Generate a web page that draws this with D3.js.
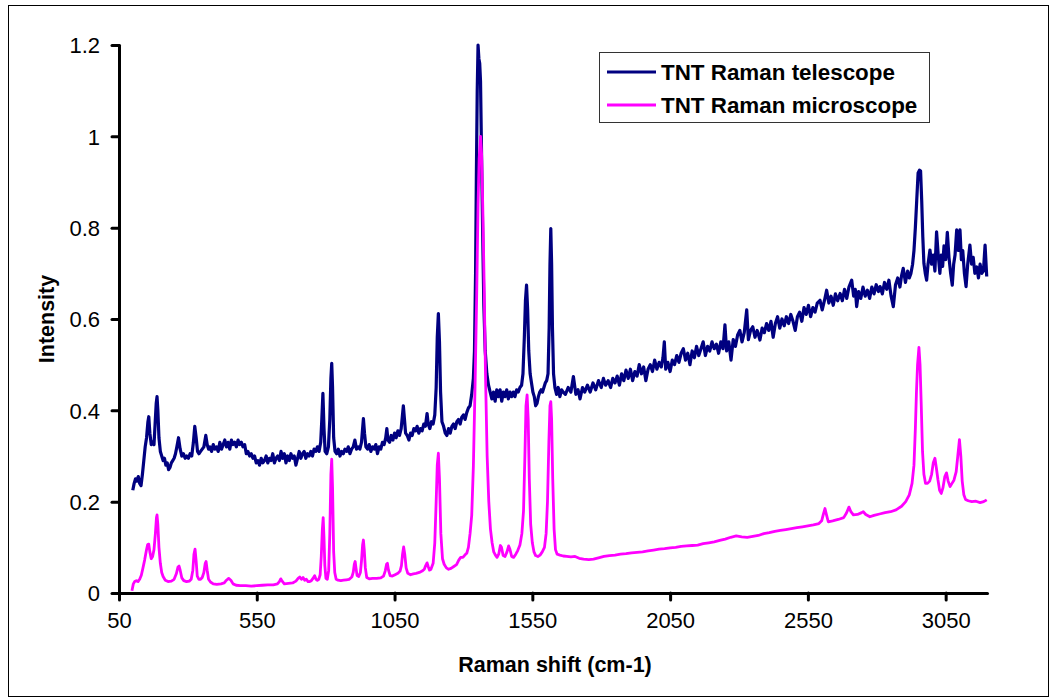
<!DOCTYPE html>
<html>
<head>
<meta charset="utf-8">
<script src="https://cdn.jsdelivr.net/npm/d3@7"></script>
<style>
  html, body { margin: 0; padding: 0; background: #fff; }
  svg { display: block; }
  text { font-family: "Liberation Sans", Arial, sans-serif; }
</style>
</head>
<body>
<svg id="chart" width="1054" height="700"></svg>
<script>
// ---------- DATA ----------
const xTicks = [50, 550, 1050, 1550, 2050, 2550, 3050];
const yTicks = [0, 0.2, 0.4, 0.6, 0.8, 1, 1.2];
const seriesNames = ["TNT Raman telescope", "TNT Raman microscope"];
const seriesColors = ["#000080", "#FF00FF"];

const telescope = [
[100,0.225],[105,0.24],[110,0.25],[115,0.245],[120,0.255],[125,0.24],[130,0.235],[135,0.26],[140,0.29],[145,0.32],[150,0.34],[155,0.375],[158,0.386],[162,0.35],[167,0.325],[172,0.33],[177,0.325],[181,0.37],[185,0.415],[188,0.43],[191,0.4],[195,0.34],[200,0.31],[205,0.3],[210,0.29],[215,0.295],[220,0.28],[225,0.285],[230,0.27],[235,0.275],
[240,0.285],[245,0.29],[250,0.295],[255,0.305],[260,0.32],[266,0.34],[272,0.315],[278,0.30],[284,0.305],[290,0.295],[296,0.30],[302,0.295],[308,0.305],[314,0.30],[320,0.33],[325,0.365],[330,0.34],[335,0.31],[340,0.305],[346,0.31],[352,0.315],[358,0.32],[365,0.345],[370,0.325],[375,0.315],[380,0.32],
[386,0.31],[392,0.325],[398,0.315],[404,0.32],[410,0.31],[416,0.33],[422,0.315],[428,0.325],[434,0.335],[440,0.32],[446,0.33],[452,0.315],[458,0.335],[464,0.325],[470,0.33],[476,0.32],[482,0.335],[488,0.325],[494,0.33],[500,0.32],[506,0.325],[512,0.305],[518,0.31],[524,0.3],[530,0.305],[536,0.295],[542,0.30],[548,0.285],[554,0.29],[560,0.28],[566,0.295],[572,0.285],[578,0.29],[584,0.30],[590,0.285],[596,0.295],[602,0.29],[608,0.305],[614,0.285],[620,0.295],[626,0.30],[632,0.29],[638,0.31],[644,0.295],[650,0.305],[656,0.285],[662,0.30],[668,0.29],[674,0.305],[680,0.295],[686,0.30],[692,0.28],[698,0.295],[704,0.31],[710,0.295],[716,0.305],[722,0.31],[728,0.295],[734,0.305],[740,0.30],[746,0.31],[752,0.30],[758,0.315],[764,0.31],[770,0.32],[776,0.31],[782,0.33],[786,0.38],[790,0.437],[794,0.36],[798,0.31],[804,0.305],[810,0.32],[815,0.38],[819,0.47],[822,0.503],[825,0.45],[829,0.34],[834,0.31],
[840,0.305],[846,0.315],[852,0.30],[858,0.31],[864,0.305],[870,0.315],[876,0.31],[882,0.32],[888,0.305],[894,0.315],[900,0.32],[906,0.335],[912,0.315],[918,0.32],[924,0.315],[930,0.33],[934,0.36],[937,0.382],[941,0.35],[946,0.32],[952,0.315],[958,0.325],[964,0.31],[970,0.32],[976,0.315],[982,0.325],[988,0.305],[994,0.32],[1000,0.315],[1006,0.33],[1012,0.325],[1018,0.34],[1022,0.36],[1026,0.335],[1032,0.33],[1038,0.345],[1044,0.335],[1050,0.35],[1056,0.34],[1062,0.355],[1068,0.345],[1074,0.36],[1078,0.385],[1082,0.41],[1086,0.38],[1090,0.35],[1096,0.345],[1102,0.335],[1108,0.35],[1114,0.345],[1120,0.36],[1126,0.355],[1132,0.365],[1138,0.35],[1144,0.36],[1150,0.355],[1156,0.37],[1162,0.365],[1168,0.393],[1172,0.37],[1178,0.36],[1184,0.375],[1190,0.37],[1196,0.39],[1201,0.45],[1205,0.56],[1209,0.612],[1213,0.55],[1217,0.44],[1222,0.375],[1228,0.365],[1234,0.35],[1240,0.345],[1246,0.36],[1252,0.35],[1258,0.365],[1264,0.37],[1270,0.36],[1276,0.375],[1282,0.38],[1288,0.37],[1294,0.385],[1300,0.39],[1306,0.38],[1312,0.395],[1318,0.405],[1324,0.41],[1330,0.435],[1336,0.47],[1340,0.53],
[1344,0.7],[1347,0.92],[1350,1.1],[1353,1.2],[1356,1.17],[1359,1.16],[1362,1.12],[1366,0.95],[1370,0.78],[1374,0.63],[1379,0.53],[1385,0.48],[1391,0.455],[1397,0.44],[1403,0.425],[1409,0.44],[1415,0.42],[1421,0.445],[1427,0.43],[1433,0.445],[1439,0.42],[1445,0.44],[1451,0.43],[1457,0.445],[1463,0.425],[1469,0.44],[1475,0.43],[1481,0.44],[1487,0.43],[1493,0.445],[1499,0.44],[1505,0.45],[1511,0.455],[1516,0.48],[1521,0.56],[1525,0.64],[1529,0.674],[1533,0.62],[1537,0.53],[1542,0.48],[1547,0.46],[1552,0.44],[1557,0.43],[1562,0.41],[1567,0.415],[1572,0.43],[1577,0.44],[1582,0.445],[1587,0.44],[1592,0.45],[1597,0.46],[1602,0.465],[1607,0.48],[1611,0.58],[1614,0.72],[1617,0.798],[1620,0.72],[1623,0.58],[1627,0.48],[1632,0.45],[1638,0.435],[1644,0.45],[1650,0.43],[1656,0.445],[1662,0.44],
[1670,0.435],[1680,0.45],[1690,0.44],[1699,0.474],[1708,0.435],[1716,0.445],[1723,0.425],[1732,0.45],[1740,0.44],[1750,0.455],[1760,0.44],[1770,0.46],[1780,0.445],[1790,0.465],[1800,0.45],[1808,0.47],[1816,0.455],[1825,0.465],[1834,0.45],[1842,0.47],[1850,0.46],[1858,0.475],[1866,0.455],[1874,0.48],[1882,0.465],[1890,0.488],[1898,0.47],[1906,0.49],[1914,0.465],[1922,0.485],[1930,0.475],[1938,0.50],[1946,0.48],[1954,0.495],[1962,0.465],[1970,0.49],[1978,0.50],[1986,0.485],[1994,0.51],[2002,0.49],[2010,0.505],[2018,0.495],[2024,0.515],[2029,0.55],[2034,0.49],[2042,0.505],[2050,0.485],[2058,0.51],[2066,0.50],[2074,0.52],[2082,0.505],[2090,0.525],[2098,0.535],[2106,0.51],[2114,0.525],[2122,0.50],[2130,0.53],[2138,0.515],[2146,0.54],[2154,0.52],[2162,0.535],[2170,0.55],[2178,0.52],[2186,0.54],[2194,0.53],[2202,0.55],[2210,0.535],[2218,0.545],[2226,0.525],[2234,0.55],[2242,0.535],[2249,0.587],[2255,0.53],[2263,0.55],[2271,0.51],[2279,0.555],[2287,0.54],[2295,0.565],[2303,0.575],[2311,0.55],[2319,0.57],[2328,0.62],[2334,0.555],[2342,0.575],[2350,0.583],[2358,0.56],[2366,0.575],[2376,0.554],[2384,0.58],[2392,0.57],[2400,0.59],[2408,0.575],[2416,0.595],[2424,0.56],[2432,0.59],[2440,0.605],[2448,0.58],[2456,0.6],[2464,0.585],[2472,0.605],[2480,0.59],[2488,0.61],[2496,0.595],[2504,0.575],[2512,0.605],[2520,0.615],[2528,0.595],[2536,0.625],[2544,0.61],[2552,0.63],[2560,0.605],[2568,0.625],[2576,0.615],[2584,0.635],[2594,0.641],[2602,0.62],[2610,0.64],[2618,0.663],[2626,0.635],[2634,0.65],[2642,0.63],[2650,0.655],[2658,0.64],[2667,0.656],[2675,0.64],[2683,0.665],[2691,0.645],[2699,0.67],[2709,0.685],[2716,0.65],[2722,0.665],[2727,0.627],[2734,0.66],[2742,0.645],[2750,0.67],[2758,0.65],[2766,0.663],[2774,0.645],[2782,0.67],[2790,0.655],[2798,0.675],[2806,0.66],[2812,0.671],[2820,0.655],[2828,0.68],[2836,0.665],[2844,0.685],[2852,0.65],[2860,0.627],[2868,0.675],[2876,0.69],[2884,0.67],[2890,0.695],[2896,0.711],[2904,0.68],[2912,0.705],[2918,0.69],[2924,0.70],[2930,0.72],[2935,0.75],[2940,0.8],[2945,0.86],[2950,0.92],[2955,0.926],[2959,0.924],[2963,0.86],[2967,0.78],[2971,0.722],[2976,0.70],[2981,0.685],[2986,0.72],[2993,0.751],[2999,0.72],[3005,0.74],[3011,0.705],[3017,0.791],[3023,0.74],[3029,0.70],[3034,0.74],[3039,0.715],[3044,0.76],[3050,0.73],[3056,0.79],[3062,0.735],[3068,0.70],[3074,0.674],[3079,0.72],[3084,0.74],[3090,0.795],[3096,0.75],[3102,0.795],[3107,0.73],[3112,0.75],[3118,0.70],[3124,0.671],[3130,0.72],[3138,0.762],[3144,0.72],[3150,0.735],[3156,0.70],[3163,0.714],[3169,0.69],[3175,0.72],[3181,0.70],[3187,0.705],[3193,0.762],[3199,0.693]
];

const microscope = [
[97,0.005],[102,0.02],[107,0.025],[113,0.027],[119,0.025],[125,0.03],[131,0.039],[137,0.055],[143,0.072],[150,0.095],[154,0.106],[158,0.107],[162,0.09],[167,0.075],[172,0.08],[177,0.095],[182,0.13],[186,0.165],[188,0.171],[191,0.15],[195,0.1],[200,0.065],[205,0.045],[210,0.036],[218,0.028],[228,0.025],[240,0.026],[250,0.03],[258,0.042],[264,0.057],[268,0.059],[272,0.05],[278,0.033],[285,0.027],[295,0.025],[305,0.026],[312,0.03],[318,0.05],[322,0.085],[326,0.096],[330,0.07],[334,0.037],[340,0.03],[346,0.03],[352,0.034],[358,0.045],[363,0.065],[366,0.069],[370,0.05],[375,0.03],[382,0.024],[392,0.02],[405,0.019],[420,0.02],[432,0.022],[440,0.028],[448,0.032],[456,0.028],[464,0.02],[475,0.017],[490,0.016],[510,0.016],[530,0.015],[550,0.016],[570,0.017],[590,0.018],[610,0.018],[625,0.02],[632,0.025],[637,0.031],[642,0.026],[650,0.02],[665,0.021],[680,0.022],[692,0.026],[700,0.032],[706,0.035],[712,0.03],[718,0.034],[724,0.028],[730,0.03],[736,0.025],[742,0.025],[748,0.027],[754,0.032],[760,0.038],[765,0.03],[770,0.028],[775,0.03],[780,0.04],[784,0.08],[788,0.14],[791,0.165],[794,0.12],[797,0.06],[801,0.032],[806,0.03],[811,0.05],[815,0.13],[819,0.26],[822,0.293],[825,0.23],[829,0.09],[833,0.045],[838,0.03],[845,0.028],[855,0.027],[865,0.028],[875,0.029],[885,0.03],[895,0.035],[900,0.045],[904,0.063],[907,0.069],[910,0.055],[914,0.038],[920,0.036],[926,0.045],[930,0.07],[934,0.105],[937,0.116],[940,0.095],[944,0.055],[949,0.034],[958,0.031],[970,0.032],[985,0.032],[1000,0.033],[1010,0.037],[1016,0.048],[1021,0.063],[1024,0.065],[1028,0.05],[1034,0.038],[1042,0.037],[1052,0.04],[1062,0.043],[1070,0.048],[1075,0.06],[1079,0.085],[1083,0.101],[1087,0.085],[1092,0.055],[1098,0.043],[1108,0.04],[1118,0.042],[1128,0.043],[1140,0.045],[1150,0.048],[1158,0.052],[1163,0.06],[1168,0.066],[1172,0.058],[1177,0.05],[1182,0.052],[1190,0.065],[1196,0.11],[1201,0.2],[1205,0.28],[1209,0.306],[1213,0.25],[1218,0.13],[1224,0.075],[1230,0.063],[1238,0.055],[1246,0.052],[1255,0.054],[1265,0.058],[1275,0.062],[1283,0.072],[1290,0.078],[1298,0.078],[1305,0.083],[1312,0.087],[1318,0.1],[1324,0.13],[1330,0.17],[1336,0.277],[1342,0.45],[1348,0.65],[1353,0.85],[1357,0.95],[1362,1.0],[1366,0.96],[1370,0.85],[1375,0.68],[1380,0.48],[1386,0.3],[1392,0.2],[1398,0.14],[1404,0.11],[1410,0.09],[1416,0.083],[1422,0.078],[1428,0.085],[1434,0.104],[1438,0.1],[1444,0.082],[1451,0.08],[1458,0.09],[1464,0.103],[1469,0.095],[1475,0.08],[1482,0.078],[1490,0.085],[1497,0.093],[1505,0.105],[1512,0.13],[1518,0.18],[1523,0.3],[1527,0.41],[1531,0.434],[1535,0.38],[1539,0.25],[1544,0.15],[1550,0.11],[1556,0.09],[1562,0.082],[1570,0.08],[1578,0.083],[1586,0.09],[1594,0.1],[1600,0.13],[1605,0.2],[1610,0.33],[1614,0.41],[1617,0.419],[1620,0.38],[1624,0.25],[1629,0.14],[1634,0.095],[1640,0.085],[1650,0.083],[1662,0.081],[1675,0.08],[1690,0.079],[1705,0.08],[1720,0.076],[1736,0.074],[1755,0.073],[1772,0.074],[1790,0.077],[1810,0.08],[1830,0.082],[1850,0.083],[1870,0.085],[1890,0.086],[1910,0.088],[1930,0.089],[1950,0.09],[1970,0.092],[1990,0.094],[2010,0.096],[2030,0.097],[2050,0.099],[2070,0.1],[2090,0.102],[2110,0.103],[2130,0.104],[2150,0.105],[2170,0.108],[2190,0.11],[2210,0.112],[2230,0.115],[2250,0.118],[2270,0.122],[2290,0.125],[2310,0.123],[2330,0.122],[2350,0.124],[2370,0.126],[2390,0.13],[2410,0.132],[2430,0.135],[2450,0.137],[2470,0.139],[2490,0.141],[2510,0.143],[2530,0.145],[2550,0.147],[2570,0.149],[2590,0.152],[2600,0.158],[2606,0.172],[2612,0.185],[2618,0.17],[2624,0.156],[2640,0.158],[2660,0.161],[2680,0.165],[2690,0.175],[2699,0.188],[2706,0.178],[2715,0.171],[2730,0.172],[2745,0.176],[2751,0.178],[2760,0.172],[2775,0.167],[2790,0.17],[2810,0.173],[2830,0.176],[2850,0.178],[2870,0.182],[2890,0.19],[2905,0.2],[2918,0.215],[2928,0.24],[2935,0.28],[2940,0.36],[2944,0.44],[2948,0.5],[2953,0.538],[2957,0.5],[2961,0.42],[2966,0.31],[2971,0.26],[2977,0.24],[2984,0.24],[2992,0.245],[2999,0.26],[3005,0.285],[3011,0.295],[3016,0.275],[3022,0.248],[3028,0.225],[3034,0.218],[3040,0.23],[3047,0.255],[3053,0.263],[3059,0.245],[3066,0.233],[3073,0.24],[3080,0.247],[3088,0.265],[3094,0.3],[3100,0.336],[3105,0.3],[3110,0.245],[3116,0.215],[3122,0.205],[3132,0.202],[3145,0.2],[3160,0.201],[3175,0.198],[3188,0.2],[3199,0.204]
];

// ---------- LAYOUT ----------
const svg = d3.select("#chart");
const plot = { left: 119, right: 987, top: 45, bottom: 593 };

// outer frame
svg.append("rect")
  .attr("x", 8.5).attr("y", 5.5)
  .attr("width", 1040).attr("height", 691)
  .attr("fill", "#fff").attr("stroke", "#000").attr("stroke-width", 1);

const x = d3.scaleLinear().domain([50, 3200]).range([plot.left, plot.right]);
const y = d3.scaleLinear().domain([0, 1.2]).range([plot.bottom, plot.top]);

// lines
const line = d3.line().x(d => x(d[0])).y(d => y(d[1]));
const widths = [3.2, 2.8];
[telescope, microscope].forEach((s, i) => {
  svg.append("path")
    .datum(s)
    .attr("fill", "none")
    .attr("stroke", seriesColors[i])
    .attr("stroke-width", widths[i])
    .attr("stroke-linejoin", "round")
    .attr("d", line);
});

// axes
const xAxis = d3.axisBottom(x).tickValues(xTicks).tickFormat(d3.format("d"))
  .tickSizeInner(7).tickSizeOuter(0).tickPadding(12);
const yAxis = d3.axisLeft(y).tickValues(yTicks).tickFormat(d => String(d))
  .tickSizeInner(7).tickSizeOuter(0).tickPadding(12);

const gx = svg.append("g").attr("transform", `translate(0,${plot.bottom})`).call(xAxis);
const gy = svg.append("g").attr("transform", `translate(${plot.left},0)`).call(yAxis);

[gx, gy].forEach(g => {
  g.select(".domain").attr("stroke", "#000").attr("stroke-width", 3).attr("stroke-linecap", "round");
  g.selectAll(".tick line").attr("stroke", "#000").attr("stroke-width", 3).attr("stroke-linecap", "round");
  g.selectAll(".tick text")
    .attr("fill", "#000")
    .style("font-family", '"Liberation Sans", Arial, sans-serif')
    .style("font-size", "22px");
});
gy.selectAll(".tick text").attr("dy", "0.36em");

// axis titles
svg.append("text")
  .attr("x", 555).attr("y", 672)
  .attr("text-anchor", "middle")
  .style("font-size", "21.5px").style("font-weight", "bold")
  .text("Raman shift (cm-1)");

svg.append("text")
  .attr("transform", `translate(54,${(plot.top + plot.bottom) / 2}) rotate(-90)`)
  .attr("text-anchor", "middle")
  .style("font-size", "21.5px").style("font-weight", "bold")
  .text("Intensity");

// legend
const lg = svg.append("g");
lg.append("rect")
  .attr("x", 599.5).attr("y", 52.5).attr("width", 330).attr("height", 70)
  .attr("fill", "#fff").attr("stroke", "#333").attr("stroke-width", 1);
seriesNames.forEach((name, i) => {
  const ly = 72 + i * 33;
  lg.append("line")
    .attr("x1", 607).attr("x2", 656).attr("y1", ly).attr("y2", ly)
    .attr("stroke", seriesColors[i]).attr("stroke-width", 2.8);
  lg.append("text")
    .attr("x", 661).attr("y", ly + 8)
    .style("font-size", "22.4px").style("font-weight", "bold")
    .text(name);
});
</script>
</body>
</html>
